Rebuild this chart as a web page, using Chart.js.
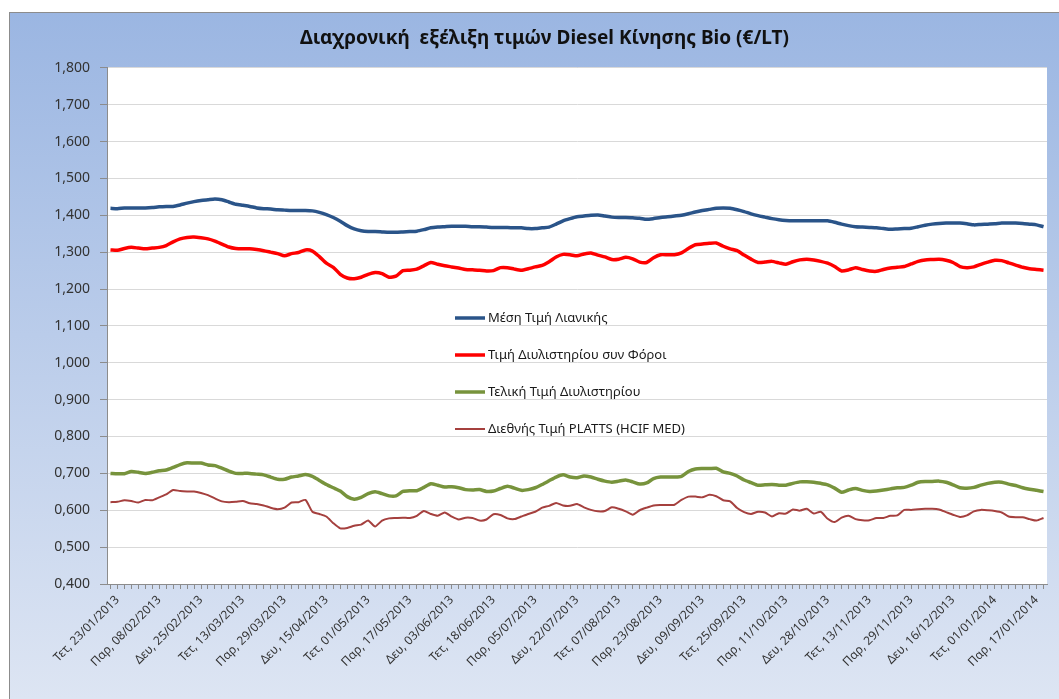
<!DOCTYPE html>
<html>
<head>
<meta charset="utf-8">
<script src="https://cdn.jsdelivr.net/npm/chart.js@4.4.1/dist/chart.umd.min.js"></script>
<style>
  html, body { margin: 0; padding: 0; background: #fff; }
  #wrap { width: 1059px; height: 699px; }
</style>
</head>
<body>
<div id="wrap"><canvas id="chart" width="1059" height="699"></canvas></div>
<script>
// τίτλος και ετικέτες άξονα Χ (κάθε 12 εργάσιμες)
const chartTitle = 'Διαχρονική  εξέλιξη τιμών Diesel Κίνησης Bio (€/LT)';
const tickLabels = [
    'Τετ, 23/01/2013', 'Παρ, 08/02/2013', 'Δευ, 25/02/2013', 'Τετ, 13/03/2013',
    'Παρ, 29/03/2013', 'Δευ, 15/04/2013', 'Τετ, 01/05/2013', 'Παρ, 17/05/2013',
    'Δευ, 03/06/2013', 'Τετ, 18/06/2013', 'Παρ, 05/07/2013', 'Δευ, 22/07/2013',
    'Τετ, 07/08/2013', 'Παρ, 23/08/2013', 'Δευ, 09/09/2013', 'Τετ, 25/09/2013',
    'Παρ, 11/10/2013', 'Δευ, 28/10/2013', 'Τετ, 13/11/2013', 'Παρ, 29/11/2013',
    'Δευ, 16/12/2013', 'Τετ, 01/01/2014', 'Παρ, 17/01/2014'
];
const seriesNames = [
    'Μέση Τιμή Λιανικής',
    'Τιμή Διυλιστηρίου συν Φόροι',
    'Τελική Τιμή Διυλιστηρίου',
    'Διεθνής Τιμή PLATTS (HCIF MED)'
];
const seriesColors = ['#2a5489', '#fe0000', '#77933c', '#a5403e'];
const seriesWidths = [3.5, 3.5, 3.5, 2];

// τιμές ανά 2 εργάσιμες
const retail = [
    1.419, 1.418, 1.420, 1.420, 1.420, 1.420, 1.421, 1.423, 1.424, 1.424,
    1.428, 1.433, 1.437, 1.440, 1.442, 1.444, 1.442, 1.436, 1.430, 1.427,
    1.424, 1.420, 1.418, 1.417, 1.415, 1.414, 1.413, 1.413, 1.413, 1.412,
    1.408, 1.402, 1.394, 1.384, 1.372, 1.363, 1.358, 1.356, 1.356, 1.355,
    1.354, 1.354, 1.355, 1.356, 1.357, 1.361, 1.366, 1.368, 1.369, 1.370,
    1.370, 1.370, 1.369, 1.369, 1.368, 1.367, 1.367, 1.367, 1.366, 1.366,
    1.364, 1.364, 1.366, 1.368, 1.376, 1.385, 1.391, 1.396, 1.398, 1.400,
    1.401, 1.398, 1.395, 1.394, 1.394, 1.393, 1.392, 1.389, 1.391, 1.394,
    1.396, 1.398, 1.400, 1.404, 1.409, 1.413, 1.416, 1.419, 1.420, 1.419,
    1.415, 1.410, 1.404, 1.399, 1.395, 1.391, 1.388, 1.386, 1.385, 1.385,
    1.385, 1.385, 1.385, 1.385, 1.381, 1.376, 1.372, 1.369, 1.368, 1.367,
    1.366, 1.364, 1.362, 1.363, 1.364, 1.365, 1.369, 1.373, 1.376, 1.378,
    1.379, 1.379, 1.379, 1.377, 1.374, 1.375, 1.376, 1.377, 1.379, 1.379,
    1.379, 1.378, 1.376, 1.374, 1.369
];
const refineryTax = [
    1.306, 1.305, 1.310, 1.313, 1.311, 1.309, 1.311, 1.313, 1.318, 1.328,
    1.336, 1.340, 1.341, 1.339, 1.336, 1.330, 1.322, 1.314, 1.310, 1.309,
    1.309, 1.307, 1.304, 1.300, 1.296, 1.290, 1.296, 1.299, 1.306, 1.303,
    1.288, 1.270, 1.259, 1.240, 1.230, 1.228, 1.232, 1.240, 1.245, 1.242,
    1.232, 1.235, 1.250, 1.251, 1.254, 1.263, 1.272, 1.267, 1.263, 1.260,
    1.257, 1.253, 1.252, 1.251, 1.249, 1.250, 1.258, 1.258, 1.254, 1.251,
    1.255, 1.260, 1.264, 1.274, 1.287, 1.294, 1.293, 1.290, 1.295, 1.298,
    1.292, 1.287, 1.280, 1.281, 1.286, 1.282, 1.273, 1.272, 1.285, 1.293,
    1.293, 1.293, 1.298, 1.310, 1.320, 1.322, 1.324, 1.325, 1.316, 1.309,
    1.304, 1.292, 1.281, 1.272, 1.273, 1.275, 1.271, 1.267, 1.274, 1.279,
    1.281, 1.279, 1.275, 1.270, 1.261, 1.249, 1.252, 1.258, 1.253, 1.249,
    1.248, 1.253, 1.257, 1.259, 1.261, 1.268, 1.275, 1.279, 1.280, 1.281,
    1.278, 1.272, 1.261, 1.258, 1.260, 1.267, 1.273, 1.278, 1.277, 1.271,
    1.265, 1.259, 1.255, 1.253, 1.251
];
const refineryFinal = [
    0.700, 0.699, 0.699, 0.705, 0.703, 0.700, 0.703, 0.707, 0.709, 0.716,
    0.724, 0.729, 0.728, 0.728, 0.723, 0.721, 0.714, 0.706, 0.700, 0.700,
    0.700, 0.698, 0.696, 0.690, 0.684, 0.684, 0.690, 0.693, 0.697, 0.692,
    0.681, 0.670, 0.661, 0.652, 0.637, 0.630, 0.635, 0.645, 0.650, 0.645,
    0.639, 0.639, 0.651, 0.653, 0.653, 0.662, 0.672, 0.668, 0.663, 0.664,
    0.661, 0.656, 0.655, 0.656, 0.651, 0.652, 0.659, 0.665, 0.660, 0.654,
    0.656, 0.661, 0.670, 0.680, 0.690, 0.696, 0.690, 0.688, 0.693, 0.690,
    0.684, 0.679, 0.676, 0.679, 0.682, 0.677, 0.671, 0.674, 0.686, 0.690,
    0.690, 0.690, 0.692, 0.705, 0.712, 0.713, 0.713, 0.714, 0.704, 0.700,
    0.693, 0.682, 0.675, 0.668, 0.669, 0.670, 0.668, 0.668, 0.673, 0.677,
    0.677, 0.676, 0.673, 0.669, 0.660, 0.649, 0.655, 0.659, 0.654, 0.651,
    0.652, 0.655, 0.658, 0.661, 0.662, 0.668, 0.676, 0.678, 0.678, 0.679,
    0.676, 0.669, 0.661, 0.660, 0.662, 0.668, 0.673, 0.676, 0.676, 0.671,
    0.667, 0.661, 0.657, 0.654, 0.651
];
const platts = [
    0.622, 0.623, 0.627, 0.625, 0.621, 0.628, 0.627, 0.635, 0.643, 0.655,
    0.652, 0.651, 0.651, 0.647, 0.641, 0.632, 0.624, 0.622, 0.623, 0.625,
    0.619, 0.617, 0.613, 0.607, 0.603, 0.607, 0.621, 0.622, 0.628, 0.596,
    0.590, 0.583, 0.565, 0.551, 0.552, 0.558, 0.561, 0.572, 0.556, 0.572,
    0.578, 0.579, 0.580, 0.579, 0.585, 0.598, 0.590, 0.585, 0.594, 0.583,
    0.575, 0.580, 0.579, 0.572, 0.575, 0.589, 0.587, 0.578, 0.576, 0.583,
    0.590, 0.596, 0.607, 0.612, 0.620, 0.613, 0.612, 0.617, 0.608, 0.601,
    0.597, 0.598, 0.608, 0.604, 0.597, 0.588, 0.600, 0.607, 0.613, 0.614,
    0.614, 0.615, 0.628, 0.637, 0.637, 0.635, 0.642, 0.638, 0.627, 0.624,
    0.606, 0.595, 0.590, 0.596, 0.594, 0.583, 0.592, 0.591, 0.602, 0.599,
    0.604, 0.591, 0.596, 0.577, 0.568, 0.580, 0.585, 0.576, 0.573, 0.573,
    0.579, 0.579, 0.585, 0.586, 0.601, 0.601, 0.603, 0.604, 0.604, 0.602,
    0.595, 0.588, 0.582, 0.586, 0.597, 0.601, 0.600, 0.598, 0.594, 0.583,
    0.581, 0.581, 0.576, 0.572, 0.579
];

// κατηγορίες: ετικέτα κάθε 6ο σημείο, ξεκινώντας από το 2ο
const categories = retail.map((v, i) => (i - 1) % 6 === 0 ? tickLabels[(i - 1) / 6] || '' : '');

// φόντο με διαβάθμιση όπως στο Excel
const backdrop = {
    id: 'backdrop',
    beforeDraw(chart) {
        const { ctx, width, height, chartArea } = chart;
        ctx.save();
        ctx.fillStyle = '#ffffff';
        ctx.fillRect(0, 0, width, height);
        const g = ctx.createLinearGradient(0, 13, 0, height);
        g.addColorStop(0, '#9bb6e2');
        g.addColorStop(1, '#dde5f3');
        ctx.fillStyle = g;
        ctx.fillRect(10, 13, width - 10, height - 13);
        ctx.strokeStyle = '#8c8c8c';
        ctx.lineWidth = 1;
        ctx.strokeRect(9.5, 12.5, width + 5, height + 5);
        ctx.fillStyle = '#ffffff';
        ctx.fillRect(chartArea.left, chartArea.top, chartArea.right - chartArea.left, chartArea.bottom - chartArea.top);
        ctx.restore();
    }
};

// υπόμνημα μέσα στην περιοχή σχεδίασης
const insideLegend = {
    id: 'insideLegend',
    afterDatasetsDraw(chart, args, opts) {
        const { ctx } = chart;
        ctx.save();
        ctx.font = '13px "Noto Sans"';
        ctx.textBaseline = 'middle';
        chart.data.datasets.forEach((ds, i) => {
            const y = opts.top + i * opts.step;
            ctx.strokeStyle = ds.borderColor;
            ctx.lineWidth = ds.borderWidth;
            ctx.beginPath();
            ctx.moveTo(opts.left, y);
            ctx.lineTo(opts.left + 30, y);
            ctx.stroke();
            ctx.fillStyle = '#1a1a1a';
            ctx.fillText(ds.label, opts.left + 33, y);
        });
        ctx.restore();
    }
};

try {
    new Chart(document.getElementById('chart').getContext('2d'), {
        type: 'line',
        data: {
            labels: categories,
            datasets: [retail, refineryTax, refineryFinal, platts].map((d, i) => ({
                label: seriesNames[i],
                data: d,
                borderColor: seriesColors[i],
                backgroundColor: seriesColors[i],
                borderWidth: seriesWidths[i],
                pointRadius: 0,
                tension: 0.2,
                fill: false
            }))
        },
        options: {
            responsive: false,
            animation: false,
            layout: { padding: { left: 42, right: 12, top: 0, bottom: 0 } },
            plugins: {
                legend: { display: false },
                tooltip: { enabled: false },
                title: {
                    display: true,
                    text: chartTitle,
                    color: '#111',
                    font: { family: '"Noto Sans"', size: 19, weight: 'bold' },
                    padding: { top: 27, bottom: 18 }
                },
                insideLegend: { left: 455, top: 318, step: 37 }
            },
            scales: {
                x: {
                    type: 'category',
                    offset: true,
                    grid: { display: true, drawOnChartArea: false, tickLength: 5, color: '#8c8c8c' },
                    border: { color: '#8c8c8c' },
                    ticks: {
                        autoSkip: false,
                        maxRotation: 45,
                        minRotation: 45,
                        padding: 4,
                        color: '#333',
                        font: { family: '"Noto Sans"', size: 12 }
                    },
                    afterFit: (s) => { s.height = 115; }
                },
                y: {
                    min: 0.4,
                    max: 1.8,
                    ticks: {
                        stepSize: 0.1,
                        padding: 10,
                        color: '#333',
                        font: { family: '"Noto Sans"', size: 14 },
                        callback: (v) => v.toFixed(3).replace('.', ',')
                    },
                    grid: { color: '#d9d9d9', tickColor: '#8c8c8c', tickLength: 7 },
                    border: { color: '#8c8c8c' },
                    afterFit: (s) => { s.width = 65; }
                }
            }
        },
        plugins: [backdrop, insideLegend]
    });
} catch (error) {
    console.error('Σφάλμα κατά τη δημιουργία διαγράμματος:', error);
}
</script>
</body>
</html>
